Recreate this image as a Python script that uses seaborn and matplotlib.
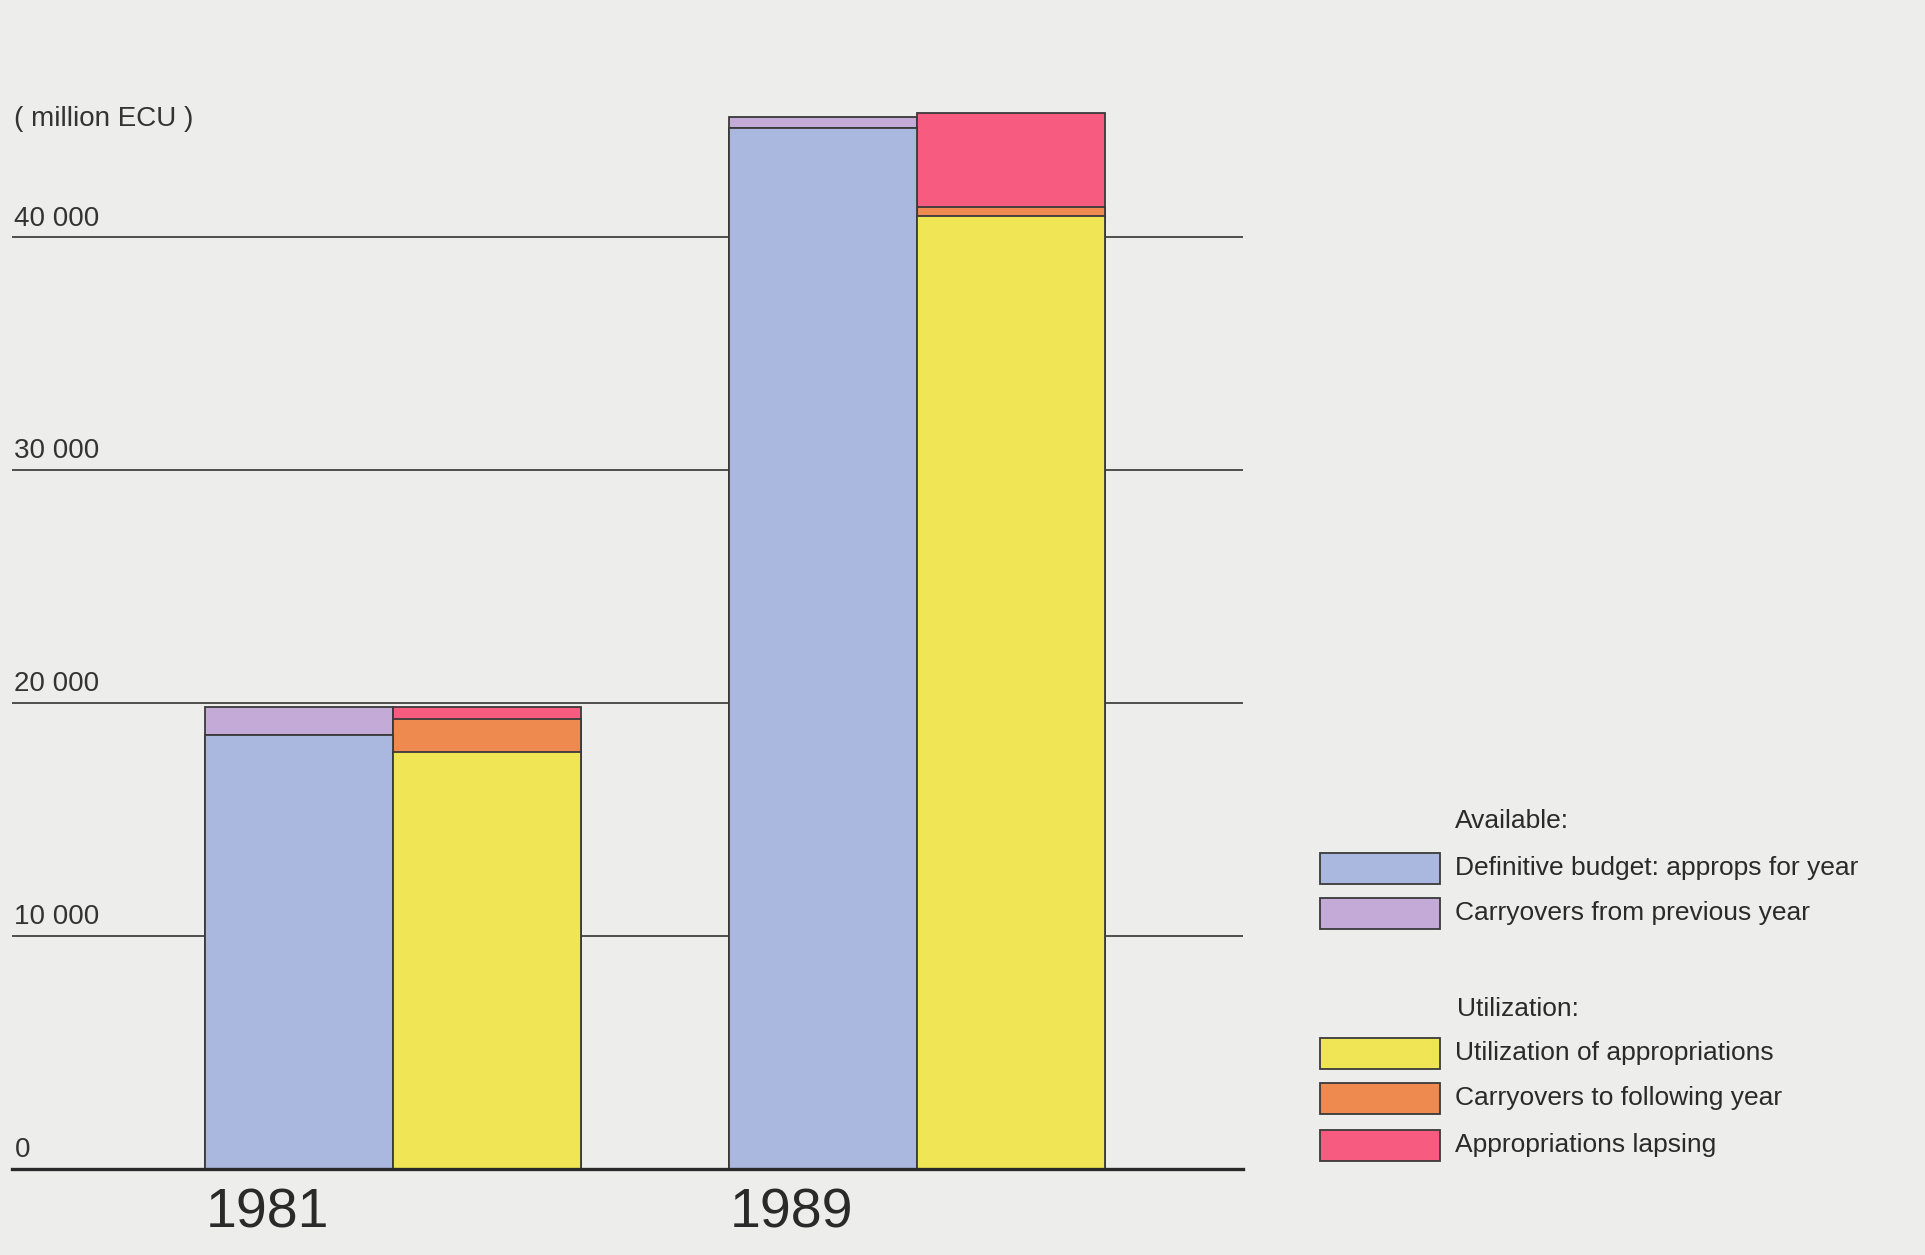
import pandas as pd
import matplotlib.pyplot as plt
import seaborn as sns
from matplotlib.patches import Rectangle
from matplotlib.transforms import blended_transform_factory

# values (million ECU)
years = ["1981", "1989"]
budget_for_year = [18650, 44700]
carry_from_prev = [1200, 450]
utilization = [17900, 40900]
carry_to_next = [1400, 400]
lapsing = [550, 4050]

ytick_values = [0, 10000, 20000, 30000, 40000]
ytick_labels = ["0", "10 000", "20 000", "30 000", "40 000"]

avail_labels = ["Definitive budget: approps for year", "Carryovers from previous year"]
util_labels = ["Utilization of appropriations", "Carryovers to following year", "Appropriations lapsing"]

colors = {
    "budget": "#aab7df",
    "carry_prev": "#c4aad6",
    "util": "#f0e655",
    "carry_next": "#ee8a4f",
    "lapse": "#f75c80",
}
bg = "#ededeb"
edge = "#3a3a3a"

sns.set_style("white")
plt.rcParams["font.family"] = ["Liberation Sans", "DejaVu Sans"]

# cumulative layers, drawn from the top down so lower pieces cover the upper ones
rows = []
for i, y in enumerate(years):
    rows.append({"year": y, "side": "Available", "layer": 0,
                 "value": budget_for_year[i] + carry_from_prev[i], "col": colors["carry_prev"]})
    rows.append({"year": y, "side": "Available", "layer": 1,
                 "value": budget_for_year[i], "col": colors["budget"]})
    rows.append({"year": y, "side": "Available", "layer": 2,
                 "value": budget_for_year[i], "col": colors["budget"]})
    rows.append({"year": y, "side": "Utilization", "layer": 0,
                 "value": utilization[i] + carry_to_next[i] + lapsing[i], "col": colors["lapse"]})
    rows.append({"year": y, "side": "Utilization", "layer": 1,
                 "value": utilization[i] + carry_to_next[i], "col": colors["carry_next"]})
    rows.append({"year": y, "side": "Utilization", "layer": 2,
                 "value": utilization[i], "col": colors["util"]})
df = pd.DataFrame(rows)

W, H = 1925, 1255
fig = plt.figure(figsize=(W / 100, H / 100), dpi=100)
fig.patch.set_facecolor(bg)
ax = fig.add_axes([12 / W, 1 - 1169 / H, (1243 - 12) / W, (1169 - 51) / H])
ax.set_facecolor(bg)

for layer in range(3):
    sub = df[df["layer"] == layer]
    pal = {
        "Available": sub[sub["side"] == "Available"]["col"].iloc[0],
        "Utilization": sub[sub["side"] == "Utilization"]["col"].iloc[0],
    }
    sns.barplot(data=sub, x="year", y="value", hue="side", hue_order=["Available", "Utilization"],
                palette=pal, width=0.716, dodge=True, errorbar=None, saturation=1,
                edgecolor=edge, linewidth=1.3, legend=False, ax=ax)

ax.set_xlim(-0.727, 1.622)
ax.set_ylim(0, 48000)
ax.set_xticks([])
ax.set_yticks([])
ax.set_xlabel("")
ax.set_ylabel("")
for s in ["top", "right", "left"]:
    ax.spines[s].set_visible(False)
ax.spines["bottom"].set_linewidth(2.4)
ax.spines["bottom"].set_color("#2a2a2a")

# gridlines behind bars
for v in ytick_values[1:]:
    ax.axhline(v, color="#333333", lw=1.2, zorder=0)

# y labels sit above their lines
tr = blended_transform_factory(ax.transAxes, ax.transData)
for v, lab in zip(ytick_values, ytick_labels):
    ax.text(0.002, v + 250, lab, transform=tr, ha="left", va="bottom", fontsize=20, color="#333333")
ax.text(0.002, 45100, "( million ECU )", transform=tr, ha="left", va="center", fontsize=20, color="#333333")

# year labels under the bars
tr2 = blended_transform_factory(ax.transData, ax.transAxes)
for i, y in enumerate(years):
    ax.text(i - 0.358, -0.04, y, transform=tr2, ha="left", va="center", fontsize=40, color="#2a2a2a")

# hand-made legend with two groups
def legend_row(y_px, color, label):
    fig.patches.append(Rectangle((1320 / W, 1 - (y_px + 15.5) / H), 120 / W, 31 / H,
                                 transform=fig.transFigure, facecolor=color,
                                 edgecolor=edge, linewidth=1.3))
    fig.text(1455 / W, 1 - y_px / H, label, ha="left", va="center", fontsize=19, color="#2a2a2a")

fig.text(1455 / W, 1 - 821 / H, "Available:", ha="left", va="center", fontsize=19, color="#2a2a2a")
legend_row(868, colors["budget"], avail_labels[0])
legend_row(913, colors["carry_prev"], avail_labels[1])
fig.text(1457 / W, 1 - 1009 / H, "Utilization:", ha="left", va="center", fontsize=19, color="#2a2a2a")
legend_row(1053, colors["util"], util_labels[0])
legend_row(1098, colors["carry_next"], util_labels[1])
legend_row(1145, colors["lapse"], util_labels[2])

plt.savefig("out.png", dpi=100, facecolor=bg)
